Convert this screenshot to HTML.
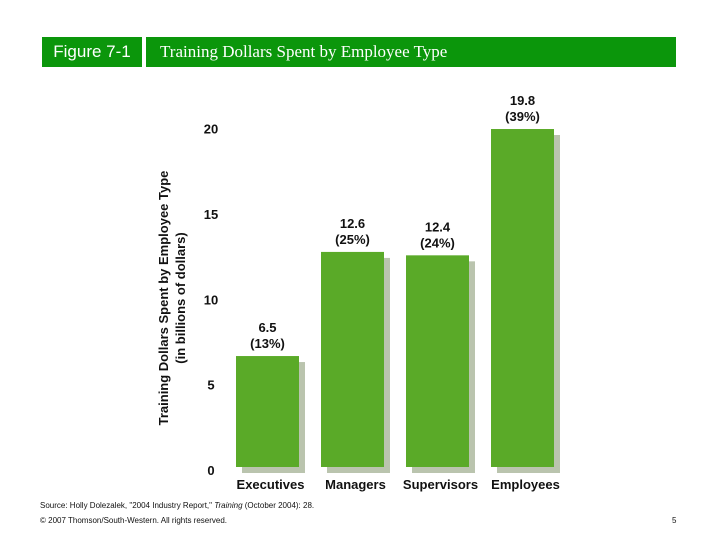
<!DOCTYPE html>
<html><head><meta charset="utf-8">
<style>
body{margin:0;width:720px;height:540px;background:#fff;position:relative;overflow:hidden;font-family:"Liberation Sans",sans-serif}
.hdr{position:absolute;top:37px;height:30px;background:#0b960b;color:#fff}
</style></head>
<body>
<div class="hdr" style="left:42px;width:100px;font-size:17px;line-height:30px;text-align:center">Figure 7-1</div>
<div class="hdr" style="left:146px;width:530px;font-family:'Liberation Serif',serif;font-size:17px;line-height:30px;padding-left:14px;box-sizing:border-box">Training Dollars Spent by Employee Type</div>
<svg id="chart" width="720" height="540" style="position:absolute;left:0;top:0">
<g id="ytitle" font-weight="bold" font-size="13" text-anchor="middle" fill="#111">
<text transform="translate(168,298) rotate(-90)">Training Dollars Spent by Employee Type</text>
<text transform="translate(185,298) rotate(-90)">(in billions of dollars)</text>
</g>
</svg>
<div style="position:absolute;left:40px;top:501px;font-size:8px;color:#111">Source: Holly Dolezalek, "2004 Industry Report," <i>Training</i> (October 2004): 28.</div>
<div style="position:absolute;left:40px;top:516px;font-size:8px;color:#111">© 2007 Thomson/South-Western. All rights reserved.</div>
<div style="position:absolute;left:672px;top:516px;font-size:8px;color:#111">5</div>
<script>
const categories=["Executives","Managers","Supervisors","Employees"];
const values=[6.5,12.6,12.4,19.8];
const pctLabels=["(13%)","(25%)","(24%)","(39%)"];
const yTicks=[0,5,10,15,20];
const svg=document.getElementById('chart');
const NS='http://www.w3.org/2000/svg';
const y0=467,unit=17.07,x0=236,pitch=85,bw=63;
const y=v=>y0-v*unit;
const x=i=>x0+i*pitch;
function mk(tag,attrs,txt){const e=document.createElementNS(NS,tag);for(const k in attrs)e.setAttribute(k,attrs[k]);if(txt!=null)e.textContent=txt;svg.appendChild(e);return e;}
yTicks.forEach(t=>{
 const e=mk('text',{x:211,y:y(t)+8,'text-anchor':'middle','font-size':13,'font-weight':'bold',fill:'#111'},String(t));
 
 
});
categories.forEach((c,i)=>{
 const s=mk('rect',{x:x(i)+6,y:y(values[i])+6,width:bw,height:y0-y(values[i]),fill:'#bac4ae'});
 
 
 const b=mk('rect',{x:x(i),y:y(values[i]),width:bw,height:y0-y(values[i]),fill:'#5aaa28'});
 
 
 const l1=mk('text',{x:x(i)+bw/2,y:y(values[i])-24,'text-anchor':'middle','font-size':13,'font-weight':'bold',fill:'#111'},values[i].toFixed(1));
 
 
 const l2=mk('text',{x:x(i)+bw/2,y:y(values[i])-8,'text-anchor':'middle','font-size':13,'font-weight':'bold',fill:'#111'},pctLabels[i]);
 
 
 const cl=mk('text',{x:x(i)+bw/2+3,y:489,'text-anchor':'middle','font-size':13,'font-weight':'bold',fill:'#111'},c);
 
 
});
</script>
</body></html>
